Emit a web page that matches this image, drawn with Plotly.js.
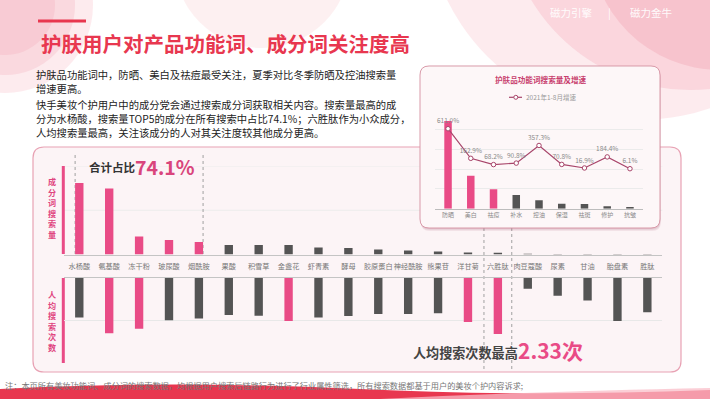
<!DOCTYPE html>
<html><head><meta charset="utf-8">
<script src="https://cdn.plot.ly/plotly-3.0.1.min.js"></script>
<style>html,body{margin:0;padding:0;background:#fff;}#chart{width:710px;height:399px;}</style>
</head><body><div id="chart"></div>
<script>
// ---------- data ----------
const ingredients = ['水杨酸','氨基酸','冻干粉','玻尿酸','烟酰胺','果酸','积雪草','金盏花','虾青素','酵母','胶原蛋白','神经酰胺','熊果苷','洋甘菊','六胜肽','肉豆蔻酸','尿素','甘油','胎盘素','胜肽'];
const searchVolumeIndex = [80.8,74.6,20.3,16.4,14.1,10.7,10.7,10.7,7.9,7.3,5.6,4.5,3.4,2.3,1.9,0.8,0.7,0.6,0.6,0.5];
const perUserSearches = [1.65,2.30,2.11,1.76,1.69,1.54,1.57,1.79,1.65,1.58,1.50,1.50,1.47,1.83,2.33,0.46,0.75,0.94,1.79,1.43];
const perUserHighlight = ['氨基酸','冻干粉','金盏花','洋甘菊','六胜肽'];
const top5Share = '74.1%';
const functionWords = ['防晒','美白','祛痘','补水','控油','保湿','祛斑','修护','抗皱'];
const functionVolumeIndex = [4.44,1.67,0.98,0.69,0.43,0.25,0.24,0.12,0.09];
const functionGrowth = [611.0,162.9,68.2,90.8,357.3,70.8,16.9,184.4,6.1];
const growthSeriesName = '2021年1-8月增速';

// ---------- helpers ----------
const W = 710, H = 399;
const px = x => x / W, py = y => 1 - y / H;
const P = (x, y) => px(x).toFixed(5) + ',' + py(y).toFixed(5);
function roundRect(x0, y0, x1, y1, r) {
  return 'M' + P(x0 + r, y0) + ' L' + P(x1 - r, y0) + ' Q' + P(x1, y0) + ' ' + P(x1, y0 + r) +
    ' L' + P(x1, y1 - r) + ' Q' + P(x1, y1) + ' ' + P(x1 - r, y1) +
    ' L' + P(x0 + r, y1) + ' Q' + P(x0, y1) + ' ' + P(x0, y1 - r) +
    ' L' + P(x0, y0 + r) + ' Q' + P(x0, y0) + ' ' + P(x0 + r, y0) + ' Z';
}
const FONT = '"Noto Sans CJK SC", "Noto Sans", sans-serif';
const PINK = '#e94b86', DARK = '#545454', RED = '#e8374f';

const shapes = [];
const annotations = [];
function circle(cx, cy, r, color) {
  shapes.push({type: 'circle', xref: 'paper', yref: 'paper', x0: px(cx - r), x1: px(cx + r), y0: py(cy + r), y1: py(cy - r), fillcolor: color, line: {width: 0}, layer: 'below'});
}
// decorative background
circle(5, 5, 88, 'rgba(245,165,178,0.22)');
circle(5, 5, 70, 'rgba(245,165,178,0.25)');
circle(5, 5, 50, 'rgba(245,165,178,0.25)');
circle(262, -40, 88, 'rgba(248,205,210,0.30)');
circle(640, -95, 215, 'rgba(248,198,206,0.35)');
circle(690, -95, 185, 'rgba(245,175,188,0.35)');
circle(720, -60, 130, 'rgba(242,160,176,0.35)');
// title accent line
shapes.push({type: 'line', xref: 'paper', yref: 'paper', x0: px(38), x1: px(86), y0: py(21), y1: py(21), line: {color: RED, width: 3}, layer: 'below'});
// main panel
shapes.push({type: 'path', xref: 'paper', yref: 'paper', path: roundRect(33, 147, 681, 372, 11), fillcolor: '#fcf4f6', line: {color: '#e8a2b4', width: 1.2}, layer: 'below'});
// upper gridlines (drawn as shapes so the inset covers them)
[50, 100].forEach(v => shapes.push({type: 'line', xref: 'paper', yref: 'y', x0: px(64.4), x1: px(662.3), y0: v, y1: v, line: {color: '#ececec', width: 1}, layer: 'below'}));
// left pink marker bars
shapes.push({type: 'rect', xref: 'paper', yref: 'paper', x0: px(61.8), x1: px(64.8), y0: py(254), y1: py(166), fillcolor: PINK, line: {width: 0}, layer: 'below'});
shapes.push({type: 'rect', xref: 'paper', yref: 'paper', x0: px(61.8), x1: px(64.8), y0: py(363), y1: py(278), fillcolor: PINK, line: {width: 0}, layer: 'below'});
// dotted brackets
[-0.14, 4.14].forEach(v => shapes.push({type: 'line', xref: 'x', yref: 'paper', x0: v, x1: v, y0: py(155), y1: py(254.5), line: {color: '#a0a0a0', width: 1, dash: 'dot'}, layer: 'below'}));
const hexIdx = ingredients.indexOf('六胜肽');
[hexIdx - 0.465, hexIdx + 0.465].forEach(v => shapes.push({type: 'line', xref: 'x2', yref: 'paper', x0: v, x1: v, y0: py(228), y1: py(372), line: {color: '#a0a0a0', width: 1, dash: 'dot'}, layer: 'below'}));
// inset shadow + box
[3, 2, 1].forEach(d => shapes.push({type: 'path', xref: 'paper', yref: 'paper', path: roundRect(420 + d * 0.3, 66 + d, 660 + d * 0.3, 228 + d, 9), fillcolor: 'rgba(160,70,95,0.10)', line: {width: 0}, layer: 'below'}));
shapes.push({type: 'path', xref: 'paper', yref: 'paper', path: roundRect(420, 66, 660, 228, 9), fillcolor: '#fdf7f8', line: {color: '#d99aa9', width: 1}, layer: 'below'});
// inset legend symbol
shapes.push({type: 'line', xref: 'paper', yref: 'paper', x0: px(509), x1: px(522), y0: py(97.3), y1: py(97.3), line: {color: '#a8456a', width: 1.2}, layer: 'below'});
shapes.push({type: 'circle', xref: 'paper', yref: 'paper', x0: px(513.8), x1: px(517.8), y0: py(99.3), y1: py(95.3), fillcolor: '#fff', line: {color: '#a8456a', width: 1}, layer: 'below'});
// bottom wave
shapes.push({type: 'path', xref: 'paper', yref: 'paper', layer: 'below', fillcolor: '#e8374f', line: {width: 0},
  path: 'M' + P(0, 399) + ' L' + P(0, 389) + ' Q' + P(170, 380) + ' ' + P(360, 389) + ' Q' + P(520, 397) + ' ' + P(710, 390) + ' L' + P(710, 399) + ' Z'});
shapes.push({type: 'path', xref: 'paper', yref: 'paper', layer: 'below', fillcolor: 'rgba(250,190,200,0.75)', line: {width: 0},
  path: 'M' + P(380, 399) + ' Q' + P(520, 392) + ' ' + P(710, 388) + ' L' + P(710, 399) + ' Z'});

// ---------- texts ----------
function txt(x, y, text, size, color, opts) {
  annotations.push(Object.assign({xref: 'paper', yref: 'paper', x: px(x), y: py(y), text: text, showarrow: false,
    xanchor: 'left', yanchor: 'middle', font: {family: FONT, size: size, color: color}}, opts || {}));
}
txt(39, 43, '护肤用户对产品功能词、成分词关注度高', 20.5, RED, {font: {family: FONT, size: 20.5, color: RED, weight: 'bold'}});
const para = [
  '护肤品功能词中，防晒、美白及祛痘最受关注，夏季对比冬季防晒及控油搜索量',
  '增速更高。',
  '快手美妆个护用户中的成分党会通过搜索成分词获取相关内容。搜索量最高的成',
  '分为水杨酸，搜索量TOP5的成分在所有搜索中占比74.1%；六胜肽作为小众成分，',
  '人均搜索量最高，关注该成分的人对其关注度较其他成分更高。'];
const paraY = [74, 88.5, 104, 118.5, 133];
para.forEach((t, i) => txt(34, paraY[i], t, 10.3, '#222'));
txt(548, 13, '磁力引擎', 10.5, 'rgba(255,255,255,0.95)');
txt(606, 13, '|', 10.5, 'rgba(255,255,255,0.95)');
txt(628, 13, '磁力金牛', 10.5, 'rgba(255,255,255,0.95)');
txt(51.5, 208, '成<br>分<br>词<br>搜<br>索<br>量', 8.1, '#e0457f', {xanchor: 'center', borderpad: 0, font: {family: FONT, size: 8.1, color: '#e0457f', weight: 'bold'}});
txt(51.5, 320.5, '人<br>均<br>搜<br>索<br>次<br>数', 8.1, '#e0457f', {xanchor: 'center', borderpad: 0, font: {family: FONT, size: 8.1, color: '#e0457f', weight: 'bold'}});
txt(86.5, 167, '合计占比', 11.5, '#333', {font: {family: FONT, size: 11.5, color: '#333', weight: 'bold'}});
txt(133, 166, top5Share, 19.5, '#d9457c', {font: {family: FONT, size: 19.5, color: '#d9457c', weight: 'bold'}});
const maxPerUser = Math.max(...perUserSearches);
txt(411, 352, '人均搜索次数最高', 13.1, '#444', {font: {family: FONT, size: 13.1, color: '#444', weight: 'bold'}});
txt(516, 350, maxPerUser.toFixed(2) + '次', 21, PINK, {font: {family: FONT, size: 21, color: PINK, weight: 'bold'}});
txt(540.5, 79, '护肤品功能词搜索量及增速', 7.6, '#c83f6e', {xanchor: 'center', font: {family: FONT, size: 7.6, color: '#c83f6e', weight: 'bold'}});
txt(524, 97.3, growthSeriesName, 6.5, '#999');
txt(3, 385, '注：本页所有美妆功能词、成分词的搜索数据，均根据用户搜索后链路行为进行了行业属性筛选，所有搜索数据都基于用户的美妆个护内容诉求;', 8.2, '#777');

// ---------- traces ----------
const traces = [
  {type: 'bar', x: ingredients, y: searchVolumeIndex, xaxis: 'x', yaxis: 'y', width: 0.28,
   marker: {color: ingredients.map((_, i) => i < 5 ? PINK : DARK)}, hoverinfo: 'x+y', showlegend: false},
  {type: 'bar', x: ingredients, y: perUserSearches, xaxis: 'x2', yaxis: 'y2', width: 0.28,
   marker: {color: ingredients.map(c => perUserHighlight.includes(c) ? PINK : DARK)}, hoverinfo: 'x+y', showlegend: false},
  {type: 'bar', x: functionWords, y: functionVolumeIndex, xaxis: 'x3', yaxis: 'y3', width: 0.33,
   marker: {color: functionWords.map((_, i) => i < 3 ? PINK : DARK)}, showlegend: false},
  {type: 'scatter', x: functionWords, y: functionGrowth, xaxis: 'x3', yaxis: 'y4', mode: 'lines+markers+text',
   name: growthSeriesName, text: functionGrowth.map(v => v.toFixed(1) + '%'), textposition: 'top center',
   textfont: {family: FONT, size: 6.5, color: '#8a8a8a'}, cliponaxis: false,
   line: {color: '#a8456a', width: 1.2}, marker: {symbol: 'circle', size: 4.5, color: '#fff', line: {color: '#a8456a', width: 1}}, showlegend: false}
];

const layout = {
  width: W, height: H, margin: {l: 0, r: 0, t: 0, b: 0},
  paper_bgcolor: '#fff', plot_bgcolor: 'rgba(0,0,0,0)', showlegend: false,
  font: {family: FONT},
  xaxis: {domain: [px(64.35), px(662.3)], anchor: 'y', type: 'category', showline: true, linecolor: '#c4c4c4', linewidth: 1,
    ticks: '', tickangle: 0, tickfont: {family: FONT, size: 7.2, color: '#777'}, ticklabelstandoff: 5, fixedrange: true, showgrid: false},
  yaxis: {domain: [py(254.5), py(166)], anchor: 'x', range: [0, 100], showgrid: false, showticklabels: false, zeroline: false, fixedrange: true},
  xaxis2: {domain: [px(64.35), px(662.3)], anchor: 'y2', type: 'category', matches: 'x', side: 'top', showline: true, linecolor: '#c4c4c4', linewidth: 1,
    showticklabels: false, ticks: '', showgrid: false, fixedrange: true},
  yaxis2: {domain: [py(363), py(277.7)], anchor: 'x2', range: [3.53, 0], tickvals: [1.765, 3.53], showticklabels: false,
    showgrid: true, gridcolor: '#e8e8e8', zeroline: false, fixedrange: true},
  xaxis3: {domain: [px(434.6), px(643.4)], anchor: 'y3', type: 'category', showline: true, linecolor: '#bdbdbd', linewidth: 1,
    ticks: '', tickangle: 0, tickfont: {family: FONT, size: 6, color: '#8a8a8a'}, showgrid: false, fixedrange: true},
  yaxis3: {domain: [py(208.7), py(110)], anchor: 'x3', range: [0, 5], dtick: 1, showgrid: true, gridcolor: '#ebebeb',
    showticklabels: false, zeroline: false, fixedrange: true},
  yaxis4: {domain: [py(208.7), py(110)], anchor: 'x3', overlaying: 'y3', side: 'right', range: [-599, 894], visible: false, fixedrange: true},
  shapes: shapes,
  annotations: annotations
};
Plotly.newPlot('chart', traces, layout, {displayModeBar: false, staticPlot: true});
</script>
</body></html>
